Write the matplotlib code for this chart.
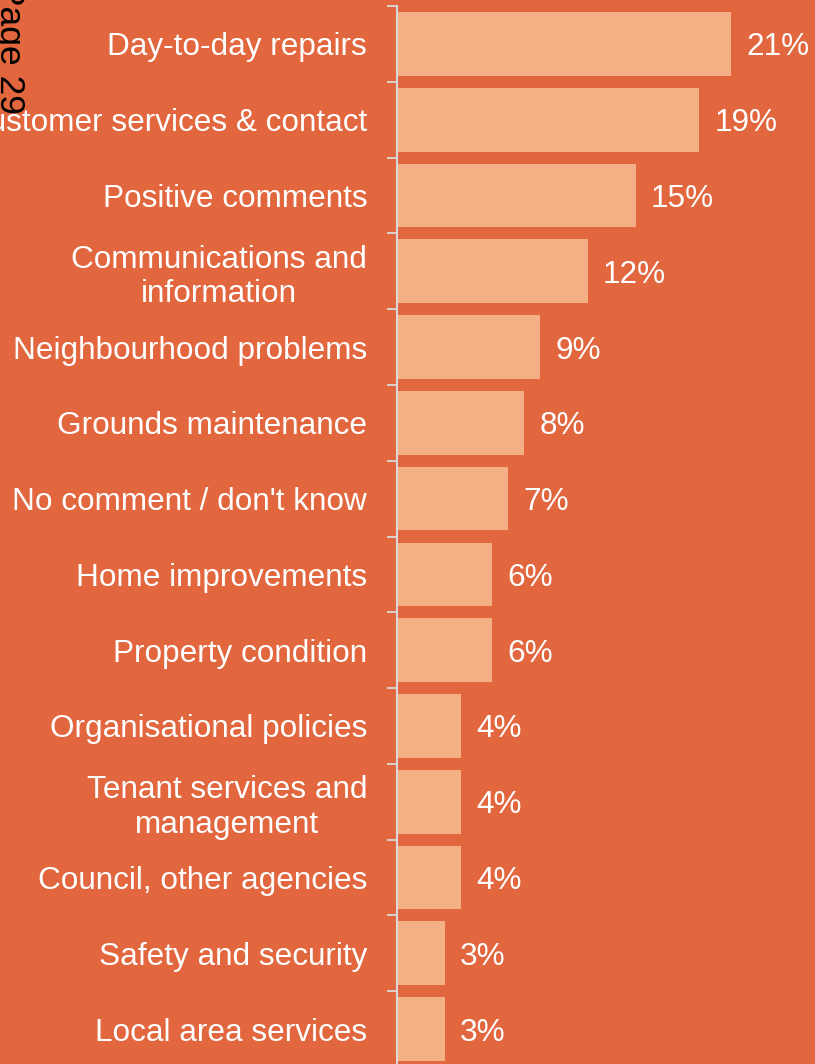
import matplotlib
matplotlib.use("Agg")
import matplotlib.pyplot as plt
import numpy as np

plt.rcParams["font.family"] = ["Liberation Sans", "DejaVu Sans"]

categories = [
    "Day-to-day repairs",
    "Customer services & contact",
    "Positive comments",
    "Communications and\ninformation",
    "Neighbourhood problems",
    "Grounds maintenance",
    "No comment / don't know",
    "Home improvements",
    "Property condition",
    "Organisational policies",
    "Tenant services and\nmanagement",
    "Council, other agencies",
    "Safety and security",
    "Local area services",
]
values = [21, 19, 15, 12, 9, 8, 7, 6, 6, 4, 4, 4, 3, 3]

BG = "#E2663E"
BAR = "#F4B084"
AXIS = "#D9D9D9"
FS = 22.7

W, H = 815, 1064
fig = plt.figure(figsize=(W / 100, H / 100), dpi=100, facecolor=BG)

# axes box in pixel terms: left edge at the category axis, runs past the bottom
ax_left, ax_top, ax_bottom, ax_right = 397, 6, 1067, 815
ax = fig.add_axes([ax_left / W, 1 - ax_bottom / H,
                   (ax_right - ax_left) / W, (ax_bottom - ax_top) / H])
ax.set_facecolor(BG)

n = len(categories)
y = np.arange(n)
bars = ax.barh(y, values, height=0.84, color=BAR, zorder=2)
ax.set_ylim(n - 0.5, -0.5)
ax.set_xlim(0, (ax_right - ax_left) / 15.9)

# value labels just past the end of each bar
for rect, v in zip(bars, values):
    ax.annotate(f"{v}%", xy=(rect.get_width(), rect.get_y() + rect.get_height() / 2),
                xytext=(11, 0), textcoords="offset points",
                ha="left", va="center_baseline", color="white", fontsize=FS)

ax.set_yticks(y)
ax.set_yticklabels(categories, fontsize=FS, color="white", linespacing=1.2)
for lbl in ax.get_yticklabels():
    lbl.set_multialignment("center")
ax.tick_params(axis="y", which="major", length=0, pad=21.5)
ax.set_yticks(np.arange(n + 1) - 0.5, minor=True)
ax.tick_params(axis="y", which="minor", length=7, width=1.3, color=AXIS)
ax.set_xticks([])

for side in ("top", "right", "bottom"):
    ax.spines[side].set_visible(False)
ax.spines["left"].set_color(AXIS)
ax.spines["left"].set_linewidth(1.5)

# page marker running down the left margin
fig.text(0 / W, 1 + 18 / H, "Page 29", rotation=-90, rotation_mode="anchor",
         ha="left", va="baseline", fontsize=25.5, color="black")

fig.savefig("out.png", dpi=100, facecolor=BG)
